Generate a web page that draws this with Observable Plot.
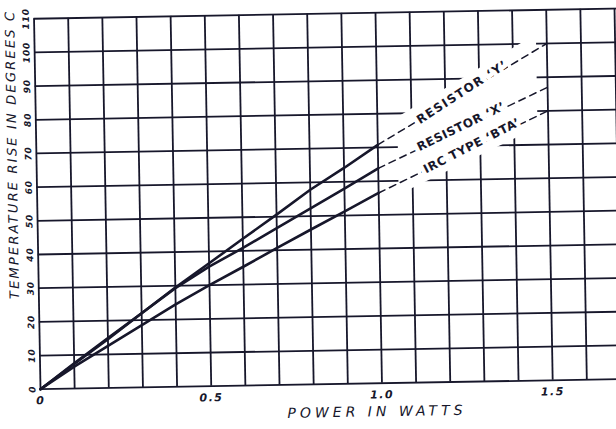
<!DOCTYPE html>
<html>
<head>
<meta charset="utf-8">
<script src="https://cdn.jsdelivr.net/npm/d3@7"></script>
<script src="https://cdn.jsdelivr.net/npm/@observablehq/plot@0.6"></script>
<style>
  html, body { margin: 0; padding: 0; background: #fff; overflow: hidden; width: 616px; height: 429px; }
  #chart { position: absolute; left: 0; top: 0; width: 630px; height: 429px;
           transform: rotate(-1deg); transform-origin: 308px 214.5px; }
  #chart svg { display: block; }
</style>
</head>
<body>
<div id="chart"></div>
<script>
// ---- data ----
const seriesNames = ["RESISTOR \u2018Y\u2019", "RESISTOR \u2018X\u2019", "IRC TYPE \u2018BTA\u2019"];
const powerWatts = [0, 0.1, 0.2, 0.3, 0.4, 0.5, 0.6, 0.7, 0.8, 0.9, 1.0];
const riseResistorY = [0, 7.5, 14.8, 22, 29.5, 36.5, 43.6, 50.6, 57.8, 64.1, 70.8];
const riseResistorX = [0, 7.3, 14.5, 22, 29.3, 35.5, 40.9, 46.6, 52.3, 58, 63.8];
const riseIrcBTA = [0, 6.5, 12.5, 18.5, 24.5, 30, 35.3, 40.7, 46, 51.2, 56.5];
const extrapolatedPower = [1.0, 1.5];
const extrapolatedY = [70.8, 100];
const extrapolatedX = [63.8, 87];
const extrapolatedIrc = [56.5, 80];
const xGridWatts = [0, 0.1, 0.2, 0.3, 0.4, 0.5, 0.6, 0.7, 0.8, 0.9, 1.0, 1.1, 1.2, 1.3, 1.4, 1.5, 1.6, 1.7];
const yGridDegrees = [0, 10, 20, 30, 40, 50, 60, 70, 80, 90, 100, 110];
const xTickValues = [0, 0.5, 1.0, 1.5];
const xTickLabels = ["0", "0.5", "1.0", "1.5"];
const yTickLabels = ["0", "10", "20", "30", "40", "50", "60", "70", "80", "90", "100", "110"];
const xTitle = "POWER IN WATTS";
const yTitle = "TEMPERATURE RISE IN DEGREES C";

// ---- tables built from the arrays ----
const measured = [riseResistorY, riseResistorX, riseIrcBTA];
const extrapolated = [extrapolatedY, extrapolatedX, extrapolatedIrc];
const solidRows = seriesNames.flatMap((name, i) =>
  powerWatts.map((p, j) => ({series: name, power: p, rise: measured[i][j]})));
const dashedRows = seriesNames.flatMap((name, i) =>
  extrapolatedPower.map((p, j) => ({series: name, power: p, rise: extrapolated[i][j]})));
const lerp = (arr, x) => arr[0] + (x - extrapolatedPower[0]) / (extrapolatedPower[1] - extrapolatedPower[0]) * (arr[1] - arr[0]);
const labelFraction = [0.5, 0.49, 0.55];
const labelAngle = [-32, -25, -26];
const labelRows = seriesNames.map((name, i) => {
  const x = extrapolatedPower[0] + labelFraction[i] * (extrapolatedPower[1] - extrapolatedPower[0]);
  return {name, power: x, rise: lerp(extrapolated[i], x), angle: labelAngle[i]};
});
const bandRows = [1.06, 1.47].map(x => ({power: x, top: lerp(extrapolatedY, x) + 4.5, bottom: lerp(extrapolatedIrc, x) - 3.5}));

const ink = "#17172b";
const font = "DejaVu Sans, sans-serif";

const chart = Plot.plot({
  width: 630,
  height: 429,
  marginLeft: 37,
  marginRight: 0,
  marginTop: 13.5,
  marginBottom: 45,
  x: {domain: [0, (630 - 37) / 341.5], axis: null},
  y: {domain: [0, 110], axis: null},
  style: {background: "white", fontFamily: font},
  marks: [
    Plot.ruleX(xGridWatts, {stroke: ink, strokeWidth: 1.8}),
    Plot.ruleY(yGridDegrees, {stroke: ink, strokeWidth: 1.8}),
    Plot.areaY(bandRows, {x: "power", y1: "bottom", y2: "top", fill: "white"}),
    Plot.line(dashedRows, {x: "power", y: "rise", z: "series", stroke: ink, strokeWidth: 1.5, strokeDasharray: "7,5"}),
    Plot.line(solidRows, {x: "power", y: "rise", z: "series", stroke: ink, strokeWidth: 2.6, strokeLinecap: "round"}),
    Plot.text(labelRows, {x: "power", y: "rise", text: "name", rotate: "angle", dy: -2,
      fill: ink, stroke: "white", strokeWidth: 9, paintOrder: "stroke",
      fontSize: 12, fontWeight: "bold"}),
    Plot.text(xTickValues, {x: d => d, text: (d, i) => xTickLabels[i], frameAnchor: "bottom", dy: 15,
      fill: ink, fontSize: 11, fontWeight: "bold", fontStyle: "italic"}),
    Plot.text(yGridDegrees, {y: d => d, text: (d, i) => yTickLabels[i], frameAnchor: "left", textAnchor: "middle",
      dx: -8, rotate: -90, fill: ink, fontSize: 9, fontWeight: "bold", fontStyle: "italic"}),
    Plot.text([xTitle], {frameAnchor: "bottom-left", textAnchor: "middle", dx: 336, dy: 33,
      fill: ink, fontSize: 14, fontStyle: "italic"}),
    Plot.text([yTitle], {frameAnchor: "left", textAnchor: "middle", rotate: -90, dx: -24, dy: -50,
      fill: ink, fontSize: 13, fontStyle: "italic"})
  ]
});

document.getElementById("chart").appendChild(chart);
// letter spacing to imitate the hand lettering
d3.select(chart).selectAll("text").each(function() {
  const t = this.textContent;
  let ls;
  if (t === xTitle) ls = "4px";
  else if (t === yTitle) ls = "2.2px";
  else if (t === seriesNames[0]) ls = "1.4px";
  else if (seriesNames.includes(t)) ls = "0.6px";
  else if (xTickLabels.includes(t) && !/rotate/.test(this.getAttribute("transform") || "")) ls = "1.5px";
  else ls = "0.8px";
  this.setAttribute("letter-spacing", ls);
});
</script>
</body>
</html>
